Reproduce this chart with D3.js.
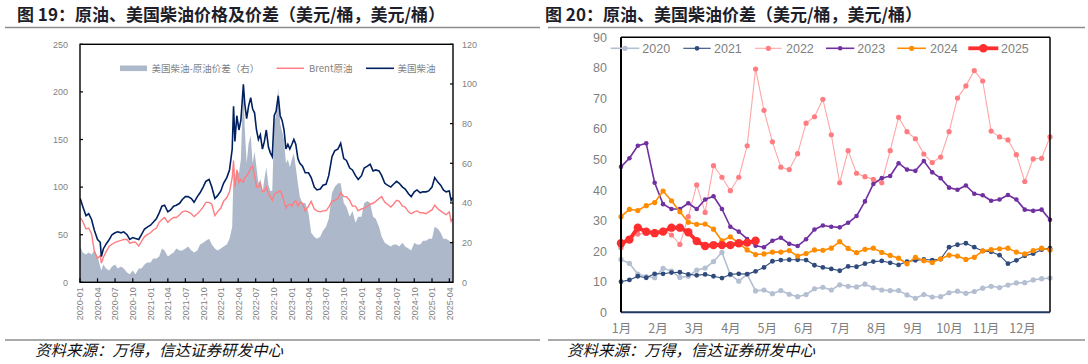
<!DOCTYPE html>
<html><head><meta charset="utf-8">
<script src="https://cdn.jsdelivr.net/npm/d3@7"></script>
<style>
body{margin:0;background:#fff;}
svg{display:block;font-family:"Liberation Sans","Noto Sans CJK SC",sans-serif;}
</style></head><body>
<svg id="c" width="1088" height="364"></svg>
<script>
// ---------- Left chart (图19) data ----------
const leftDates = [
"2020-01-02","2020-01-15","2020-02-01","2020-02-15","2020-03-01","2020-03-15","2020-04-01","2020-04-15","2020-04-21","2020-05-01","2020-05-15","2020-06-01","2020-06-15","2020-07-01","2020-07-15","2020-08-01","2020-08-15","2020-09-01","2020-09-15","2020-10-01","2020-10-15","2020-11-01","2020-11-15","2020-12-01","2020-12-15",
"2021-01-01","2021-01-15","2021-02-01","2021-02-15","2021-03-01","2021-03-15","2021-04-01","2021-04-15","2021-05-01","2021-05-15","2021-06-01","2021-06-15","2021-07-01","2021-07-15","2021-08-01","2021-08-15","2021-09-01","2021-09-15","2021-10-01","2021-10-15","2021-11-01","2021-11-15","2021-12-01","2021-12-15",
"2022-01-01","2022-01-15","2022-02-01","2022-02-15","2022-03-01","2022-03-08","2022-03-15","2022-03-25","2022-04-05","2022-04-15","2022-04-28","2022-05-05","2022-05-15","2022-05-25","2022-06-05","2022-06-15","2022-06-25","2022-07-05","2022-07-15","2022-07-25","2022-08-05","2022-08-15","2022-08-25","2022-09-05","2022-09-15","2022-09-25","2022-10-05","2022-10-15","2022-10-26","2022-11-05","2022-11-15","2022-11-25","2022-12-05","2022-12-15","2022-12-25",
"2023-01-05","2023-01-15","2023-01-25","2023-02-05","2023-02-15","2023-03-01","2023-03-15","2023-04-01","2023-04-15","2023-05-01","2023-05-15","2023-06-01","2023-06-15","2023-07-01","2023-07-15","2023-08-01","2023-08-15","2023-09-01","2023-09-15","2023-10-01","2023-10-15","2023-11-01","2023-11-15","2023-12-01","2023-12-15",
"2024-01-01","2024-01-15","2024-02-01","2024-02-15","2024-03-01","2024-03-15","2024-04-01","2024-04-15","2024-05-01","2024-05-15","2024-06-01","2024-06-15","2024-07-01","2024-07-15","2024-08-01","2024-08-15","2024-09-01","2024-09-15","2024-10-01","2024-10-15","2024-11-01","2024-11-15","2024-12-01","2024-12-15",
"2025-01-01","2025-01-15","2025-02-01","2025-02-15","2025-03-01","2025-03-15","2025-04-01","2025-04-10","2025-04-18"];
const usDiesel = [
88,80,70,72,66,55,45,42,27,35,40,45,50,52,53,52,53,50,45,47,46,45,50,56,58,
60,63,67,73,80,81,74,76,80,81,83,87,90,90,88,84,90,94,100,106,108,100,88,91,
96,104,110,118,140,185,148,175,160,170,208,188,172,185,194,182,178,160,150,155,140,148,160,142,136,132,175,180,196,175,170,160,140,145,140,
145,150,145,130,125,122,115,115,110,100,97,98,102,103,112,132,138,140,146,130,128,120,118,112,108,
112,120,122,124,117,118,117,112,104,102,100,103,106,104,100,98,93,90,95,97,94,95,95,96,
100,110,105,102,97,95,96,86,89];
const brentCrude = [
68,64,56,57,51,33,25,28,20,26,32,38,40,42,43,44,45,45,41,42,42,38,43,48,50,
52,55,57,63,66,68,63,66,68,68,71,74,75,74,72,69,72,75,79,84,84,82,70,74,
78,85,89,95,110,128,100,118,105,108,105,110,112,115,120,122,112,100,100,104,95,96,100,93,90,86,92,94,95,96,92,85,78,81,82,
80,84,86,80,84,83,75,80,85,77,75,74,75,75,79,85,86,88,94,90,90,86,80,80,75,
77,78,80,82,83,85,88,90,84,82,79,82,86,85,80,79,74,72,74,75,73,73,72,74,
76,81,77,75,73,71,74,64,67];
const dieselCrudeSpread = [
18,15,14,15,14,16,13,8,6,9,7,6,8,9,7,8,7,5,4,6,4,7,7,9,10,
10,12,12,13,17,16,13,14,15,17,16,16,17,18,16,15,16,19,20,21,22,19,17,16,
17,18,19,22,28,57,48,57,55,62,100,78,60,70,74,60,66,58,50,52,45,52,58,49,46,46,80,85,98,80,76,72,60,62,58,
62,65,58,50,43,40,40,35,25,23,22,23,26,28,32,45,48,50,50,40,38,33,36,30,33,
33,40,41,40,33,32,28,23,20,19,18,19,19,18,20,18,17,16,20,19,19,21,21,22,
22,28,27,25,22,22,21,20,21];
const leftTickLabels = ["2020-01","2020-04","2020-07","2020-10","2021-01","2021-04","2021-07","2021-10","2022-01","2022-04","2022-07","2022-10","2023-01","2023-04","2023-07","2023-10","2024-01","2024-04","2024-07","2024-10","2025-01","2025-04"];
const leftYTicks = [0,50,100,150,200,250];
const leftY2Ticks = [0,20,40,60,80,100,120];

// ---------- Right chart (图20) data: weekly diesel-crude spread ----------
const monthLabels = ["1月","2月","3月","4月","5月","6月","7月","8月","9月","10月","11月","12月"];
const rightYTicks = [0,10,20,30,40,50,60,70,80,90];
const years = ["2020","2021","2022","2023","2024","2025"];
const spread2020 = [17.3,16.0,12.5,11.7,11.3,14.4,13.5,11.4,11.8,13.8,14.5,16.6,19.6,12.3,10.2,12.4,7.0,7.3,6.1,7.1,5.9,5.1,5.8,7.7,8.2,7.3,9.0,8.5,8.3,9.2,8.0,7.3,7.1,7.1,5.7,4.6,5.8,5.0,5.1,6.4,6.9,6.2,6.8,7.9,8.5,8.1,8.9,9.6,9.7,10.6,11.0,11.2];
const spread2021 = [10.0,10.6,11.8,11.3,12.6,12.6,13.0,13.1,12.4,12.1,12.4,11.8,11.2,12.4,12.6,12.5,13.4,14.7,16.7,17.1,17.2,17.2,17.1,15.4,14.7,14.2,13.6,15.0,14.9,15.9,16.6,16.8,16.2,15.5,16.6,17.0,17.3,17.1,17.4,21.3,22.1,22.6,21.3,20.1,19.8,18.7,15.9,17.0,18.5,19.2,20.5,21.0];
const spread2022 = [21.1,24.0,25.6,25.8,26.4,26.9,25.3,22.2,31.3,41.7,32.7,48.0,44.2,39.8,44.2,54.5,79.6,66.1,55.8,47.5,46.7,51.9,61.9,64.0,69.7,58.1,42.4,52.9,45.5,44.4,43.5,42.4,52.9,63.8,59.1,56.8,51.8,49.0,50.8,59.1,70.1,74.1,79.1,75.7,59.3,57.4,56.4,51.6,42.8,50.2,50.4,57.4];
const spread2023 = [47.6,50.4,54.5,55.3,42.4,35.4,33.8,33.8,35.7,33.8,36.9,38.0,33.8,28.0,26.4,24.0,21.8,21.3,23.4,24.4,22.4,21.7,23.9,27.1,28.4,28.0,27.8,29.3,31.5,36.3,42.0,43.9,44.6,48.8,46.7,46.3,49.5,45.8,43.9,40.8,40.1,41.5,38.8,38.3,36.5,36.9,38.4,36.9,33.6,33.2,33.6,30.3];
const spread2024 = [31.3,33.7,33.3,34.9,35.9,39.7,36.5,32.9,29.5,28.8,28.9,27.2,23.4,24.7,22.6,20.4,18.9,19.1,19.7,19.7,20.2,18.4,19.2,20.4,20.3,21.0,23.1,20.9,19.5,20.6,21.0,19.6,18.6,17.7,15.9,18.0,16.9,16.3,17.5,18.7,18.4,17.3,18.0,20.1,20.5,20.8,21.0,19.7,19.1,20.2,21.0,20.4];
const spread2025 = [22.6,23.8,27.7,26.4,25.9,26.4,27.7,27.7,26.2,23.3,21.7,22.0,22.0,22.0,22.6,22.8,23.4];

const svg = d3.select("#c");
const CJK = '"Noto Sans CJK SC","Liberation Sans",sans-serif';

// ---------- headers / footers ----------
function header(x0, x1, tx, label) {
  svg.append("text").attr("x", tx).attr("y", 20.5).attr("font-family", CJK)
    .attr("font-size", 17).attr("font-weight", 700).attr("fill", "#1e1e2a").text(label);
  svg.append("line").attr("x1", x0).attr("x2", x1).attr("y1", 27.5).attr("y2", 27.5)
    .attr("stroke", "#8c8c8c").attr("stroke-width", 1.5);
}
function footer(x0, x1, tx) {
  svg.append("line").attr("x1", x0).attr("x2", x1).attr("y1", 340).attr("y2", 340)
    .attr("stroke", "#8c8c8c").attr("stroke-width", 1.5);
  svg.append("text").attr("x", tx).attr("y", 356).attr("font-family", CJK)
    .attr("font-size", 15.5).attr("font-style", "italic").attr("fill", "#111")
    .text("资料来源：万得，信达证券研发中心");
}
header(5, 540, 17, "图 19：原油、美国柴油价格及价差（美元/桶，美元/桶）");
header(548, 1085, 545, "图 20：原油、美国柴油价差（美元/桶，美元/桶）");
footer(5, 540, 35);
footer(548, 1085, 567);

// ---------- Left chart ----------
(function(){
  const L = 80, R = 453, T = 44.3, B = 282.3;
  const parse = d3.timeParse("%Y-%m-%d");
  const dates = leftDates.map(parse);
  const x = d3.scaleTime().domain([new Date(2020,0,1), new Date(2025,3,20)]).range([L, R]);
  const y = d3.scaleLinear().domain([0,250]).range([B, T]);
  const y2 = d3.scaleLinear().domain([0,120]).range([B, T]);
  const g = svg.append("g");
  const clip = svg.append("clipPath").attr("id","clipL");
  clip.append("rect").attr("x",L).attr("y",T).attr("width",R-L).attr("height",B-T);

  const idx = d3.range(dates.length);
  g.append("path").attr("clip-path","url(#clipL)")
    .attr("d", d3.area().x(i=>x(dates[i])).y0(B).y1(i=>y2(dieselCrudeSpread[i]))(idx))
    .attr("fill", "#adb9ca");
  g.append("path").attr("clip-path","url(#clipL)")
    .attr("d", d3.line().x(i=>x(dates[i])).y(i=>y(brentCrude[i]))(idx))
    .attr("fill","none").attr("stroke","#ff7c80").attr("stroke-width",1.4);
  g.append("path").attr("clip-path","url(#clipL)")
    .attr("d", d3.line().x(i=>x(dates[i])).y(i=>y(usDiesel[i]))(idx))
    .attr("fill","none").attr("stroke","#002060").attr("stroke-width",1.6);

  g.append("rect").attr("x",L).attr("y",T).attr("width",R-L).attr("height",B-T)
    .attr("fill","none").attr("stroke","#000").attr("stroke-width",1.4);

  const tickDates = leftTickLabels.map(s => parse(s + "-01"));
  const xa = g.append("g").attr("transform",`translate(0,${B})`)
    .call(d3.axisBottom(x).tickValues(tickDates).tickSize(0).tickFormat(d3.timeFormat("%Y-%m")));
  xa.select(".domain").remove();
  xa.selectAll("text").attr("transform","rotate(-90)").attr("text-anchor","end")
    .attr("x",-5).attr("y",0).attr("dy","0.32em").attr("font-size",9).attr("fill","#7f7f7f")
    .attr("font-family","Liberation Sans");
  tickDates.forEach(d => g.append("line").attr("x1",x(d)).attr("x2",x(d)).attr("y1",B).attr("y2",B-4)
    .attr("stroke","#000").attr("stroke-width",1.2));

  const ya = g.append("g").attr("transform",`translate(${L},0)`)
    .call(d3.axisLeft(y).tickValues(leftYTicks).tickSize(0).tickPadding(12));
  ya.select(".domain").remove();
  ya.selectAll("text").attr("font-size",9).attr("fill","#7f7f7f").attr("font-family","Liberation Sans");
  leftYTicks.forEach(v => g.append("line").attr("x1",L).attr("x2",L+3).attr("y1",y(v)).attr("y2",y(v)).attr("stroke","#000").attr("stroke-width",1.2));

  const y2a = g.append("g").attr("transform",`translate(${R},0)`)
    .call(d3.axisRight(y2).tickValues(leftY2Ticks).tickSize(0).tickPadding(9));
  y2a.select(".domain").remove();
  y2a.selectAll("text").attr("font-size",9).attr("fill","#7f7f7f").attr("font-family","Liberation Sans");
  leftY2Ticks.forEach(v => g.append("line").attr("x1",R-3).attr("x2",R).attr("y1",y2(v)).attr("y2",y2(v)).attr("stroke","#000").attr("stroke-width",1.2));

  const ly = 68.3;
  g.append("rect").attr("x",120).attr("y",ly-2.8).attr("width",27).attr("height",5.6).attr("fill","#adb9ca");
  g.append("text").attr("x",151.5).attr("y",ly).attr("dy","0.35em").attr("font-size",9.5).attr("fill","#7f7f7f")
    .attr("font-family",CJK).text("美国柴油-原油价差（右）");
  g.append("line").attr("x1",276.5).attr("x2",304).attr("y1",ly).attr("y2",ly).attr("stroke","#ff7c80").attr("stroke-width",1.5);
  g.append("text").attr("x",309).attr("y",ly).attr("dy","0.35em").attr("font-size",9.5).attr("fill","#7f7f7f")
    .attr("font-family",CJK).text("Brent原油");
  g.append("line").attr("x1",366).attr("x2",394).attr("y1",ly).attr("y2",ly).attr("stroke","#002060").attr("stroke-width",1.6);
  g.append("text").attr("x",397.5).attr("y",ly).attr("dy","0.35em").attr("font-size",9.5).attr("fill","#7f7f7f")
    .attr("font-family",CJK).text("美国柴油");
})();

// ---------- Right chart ----------
(function(){
  const L = 621, R = 1050, T = 37.3, B = 312.3;
  const x = d3.scaleLinear().domain([0,51]).range([L, R]);
  const y = d3.scaleLinear().domain([0,90]).range([B, T]);
  const g = svg.append("g");
  const series = [
    {name:"2020", data:spread2020, stroke:"#b4bfd2", mark:"#b4bfd2", w:1.6, r:2.6},
    {name:"2021", data:spread2021, stroke:"#2f4b7c", mark:"#2f4b7c", w:1.1, r:2.4},
    {name:"2022", data:spread2022, stroke:"#ffa6a6", mark:"#ff7c80", w:1.1, r:2.6},
    {name:"2023", data:spread2023, stroke:"#7030a0", mark:"#7030a0", w:1.6, r:2.3},
    {name:"2024", data:spread2024, stroke:"#ff8c00", mark:"#ff8c00", w:1.6, r:2.6},
    {name:"2025", data:spread2025, stroke:"#ff2e2e", mark:"#ff2e2e", w:3.8, r:4.2}
  ];
  series.forEach(s => {
    g.append("path").attr("d", d3.line().x((d,i)=>x(i)).y(d=>y(d))(s.data))
      .attr("fill","none").attr("stroke",s.stroke).attr("stroke-width",s.w).attr("stroke-linejoin","round");
    g.selectAll(null).data(s.data).enter().append("circle")
      .attr("cx",(d,i)=>x(i)).attr("cy",d=>y(d)).attr("r",s.r).attr("fill",s.mark);
  });

  g.append("line").attr("x1",L).attr("x2",R).attr("y1",T).attr("y2",T).attr("stroke","#000").attr("stroke-width",1.5);
  g.append("line").attr("x1",R).attr("x2",R).attr("y1",T).attr("y2",B).attr("stroke","#000").attr("stroke-width",1.5);
  g.append("line").attr("x1",L).attr("x2",R).attr("y1",B).attr("y2",B).attr("stroke","#1f3864").attr("stroke-width",2);
  g.append("line").attr("x1",L).attr("x2",L).attr("y1",T).attr("y2",B).attr("stroke","#000").attr("stroke-width",2);

  const ya = g.append("g").attr("transform",`translate(${L},0)`)
    .call(d3.axisLeft(y).tickValues(rightYTicks).tickSize(0).tickPadding(14));
  ya.select(".domain").remove();
  ya.selectAll("text").attr("font-size",12.5).attr("fill","#7f7f7f").attr("font-family","Liberation Sans");

  const mx = d3.scaleLinear().domain([0,12]).range([x(0), x(52)]);
  const xa = g.append("g").attr("transform",`translate(0,${B})`)
    .call(d3.axisBottom(mx).tickValues(d3.range(12)).tickSize(0).tickPadding(12).tickFormat(i=>monthLabels[i]));
  xa.select(".domain").remove();
  xa.selectAll("text").attr("font-size",12.5).attr("fill","#7f7f7f").attr("font-family",CJK);

  const ly = 48.3;
  const leg = [[610.7,639.3,642.3],[683.3,710.7,714],[755,781.7,786],[826,854.3,857.3],[897.3,926,930],[968.3,998.3,1001]];
  series.forEach((s,k) => {
    const [a,b,t] = leg[k];
    g.append("line").attr("x1",a).attr("x2",b).attr("y1",ly).attr("y2",ly).attr("stroke",s.stroke).attr("stroke-width",s.w);
    g.append("circle").attr("cx",(a+b)/2).attr("cy",ly).attr("r",s.r).attr("fill",s.mark);
    g.append("text").attr("x",t).attr("y",ly).attr("dy","0.36em").attr("font-size",12.5).attr("fill","#7f7f7f")
      .attr("font-family","Liberation Sans").text(s.name);
  });
})();
</script>
</body></html>
